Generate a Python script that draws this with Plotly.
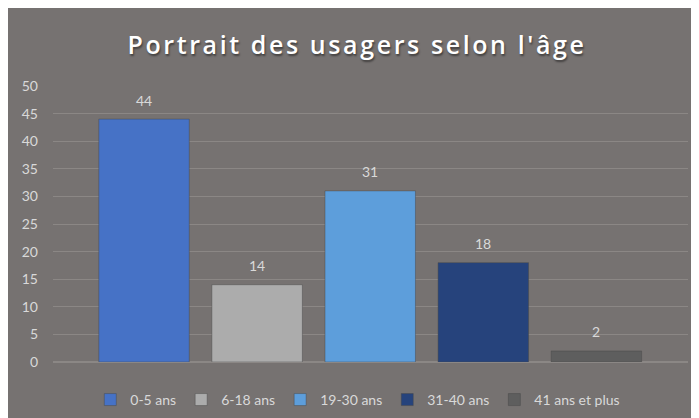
import plotly.graph_objects as go

# Data
age_groups = ["0-5 ans", "6-18 ans", "19-30 ans", "31-40 ans", "41 ans et plus"]
usagers = [44, 14, 31, 18, 2]
bar_colors = ["#4672c6", "#acacac", "#5d9edb", "#26437c", "#5e5e5e"]
y_ticks = [0, 5, 10, 15, 20, 25, 30, 35, 40, 45, 50]

bg = "#767271"
label_color = "#d9d9d9"
font_family = "Lato, 'Open Sans', sans-serif"

fig = go.Figure()
for name, val, col in zip(age_groups, usagers, bar_colors):
    fig.add_trace(
        go.Bar(
            name=name,
            x=[name],
            y=[val],
            width=0.8,
            marker=dict(color=col, line=dict(color="rgba(70,70,70,0.45)", width=1)),
            hoverinfo="x+y",
        )
    )

# data labels above the bars
for name, val in zip(age_groups, usagers):
    fig.add_annotation(
        x=name,
        y=val,
        text=str(val),
        showarrow=False,
        yshift=19,
        font=dict(color=label_color, size=14, family=font_family),
    )

# the page body keeps an 8px white margin, which gives the white border
fig.update_layout(
    width=691,
    height=410,
    margin=dict(l=45, r=11, t=78, b=56),
    paper_bgcolor=bg,
    plot_bgcolor=bg,
    barmode="overlay",
    title=dict(
        text="<span style='letter-spacing:2.6px'>Portrait des usagers selon l'âge</span>",
        x=0.505,
        xanchor="center",
        y=0.91,
        yanchor="middle",
        font=dict(
            color="white",
            size=25,
            family="'Open Sans', sans-serif",
            weight=600,
            shadow="1px 2px 2px rgba(0,0,0,0.45)",
        ),
    ),
    font=dict(family=font_family, color=label_color, size=14),
    legend=dict(
        orientation="h",
        x=0.48,
        xanchor="center",
        yref="container",
        y=0.044,
        yanchor="middle",
        font=dict(color=label_color, size=14),
        itemwidth=30,
        bgcolor="rgba(0,0,0,0)",
    ),
    showlegend=True,
)

fig.update_xaxes(
    range=[-0.805, 4.81],
    showticklabels=False,
    showgrid=False,
    zeroline=False,
    showline=False,
    ticks="",
)
fig.update_yaxes(
    range=[0, 50],
    tickvals=y_ticks,
    tickfont=dict(color=label_color, size=14),
    gridcolor="#8b8785",
    gridwidth=1,
    zeroline=True,
    zerolinecolor="#8b8785",
    showline=False,
    ticks="",
    ticklabelstandoff=14,
)

fig.write_html("out.html")
